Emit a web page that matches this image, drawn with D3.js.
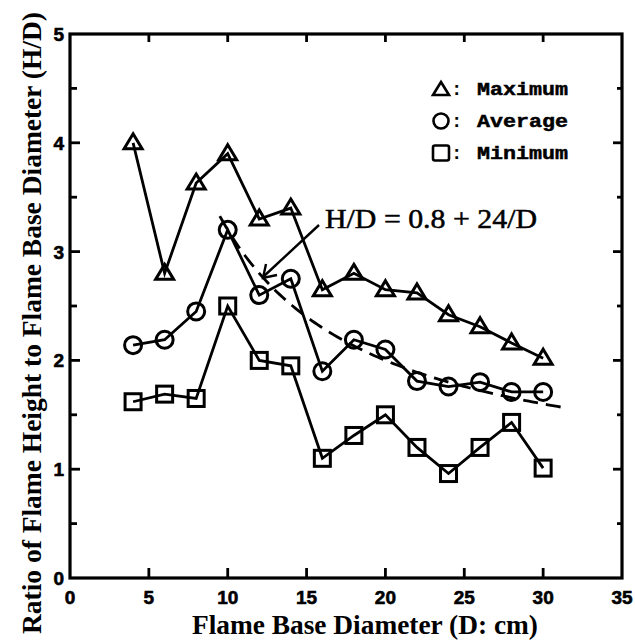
<!DOCTYPE html>
<html>
<head>
<meta charset="utf-8">
<script src="https://cdn.jsdelivr.net/npm/d3@7"></script>
<style>
  body { margin: 0; background: #fff; }
  svg { display: block; }
</style>
</head>
<body>
<svg id="chart" width="635" height="641"></svg>
<script>
// flame base diameter, cm
var diameters = [4, 6, 8, 10, 12, 14, 16, 18, 20, 22, 24, 26, 28, 30];
var maxRatio = [4.0, 2.8, 3.63, 3.9, 3.3, 3.4, 2.65, 2.8, 2.65, 2.62, 2.42, 2.31, 2.16, 2.02];
var avgRatio = [2.14, 2.19, 2.45, 3.2, 2.6, 2.75, 1.9, 2.19, 2.1, 1.81, 1.76, 1.8, 1.71, 1.71];
var minRatio = [1.62, 1.69, 1.65, 2.5, 2.0, 1.95, 1.1, 1.31, 1.5, 1.2, 0.96, 1.2, 1.43, 1.01];

var xTicks = [0, 5, 10, 15, 20, 25, 30, 35];
var yTicks = [0, 1, 2, 3, 4, 5];
var yMinorTicks = [0.5, 1.5, 2.5, 3.5, 4.5];

// fitted correlation H/D = fitA + fitB / D
var fitA = 0.8, fitB = 24;
var fitRange = [9.5, 31.6];

var legendItems = [
    { name: 'Maximum', shape: 'triangle' },
    { name: 'Average', shape: 'circle' },
    { name: 'Minimum', shape: 'square' }
];

var plotL = 70, plotT = 34, plotR = 622, plotB = 578;

var svg = d3.select('#chart');

var x = d3.scaleLinear().domain([0, 35]).range([plotL, plotR]);
var y = d3.scaleLinear().domain([0, 5]).range([plotB, plotT]);

function drawMarker(g, shape, cx, cy) {
    if (shape === 'triangle') {
        g.append('path')
            .attr('d', 'M' + cx + ',' + (cy - 9) + 'L' + (cx + 9) + ',' + (cy + 6) +
                'L' + (cx - 9) + ',' + (cy + 6) + 'Z');
    } else if (shape === 'circle') {
        g.append('circle').attr('cx', cx).attr('cy', cy).attr('r', 8.5);
    } else {
        g.append('rect').attr('x', cx - 8).attr('y', cy - 8)
            .attr('width', 16).attr('height', 16);
    }
}

// ticks (inward)
var axes = svg.append('g').attr('stroke', '#000').attr('stroke-width', 2.8);
xTicks.slice(1, -1).forEach(function(t) {
    axes.append('line').attr('x1', x(t)).attr('x2', x(t)).attr('y1', plotB).attr('y2', plotB - 10);
    axes.append('line').attr('x1', x(t)).attr('x2', x(t)).attr('y1', plotT).attr('y2', plotT + 8);
});
yTicks.slice(1, -1).forEach(function(t) {
    axes.append('line').attr('x1', plotL).attr('x2', plotL + 10).attr('y1', y(t)).attr('y2', y(t));
    axes.append('line').attr('x1', plotR).attr('x2', plotR - 9).attr('y1', y(t)).attr('y2', y(t));
});
yMinorTicks.forEach(function(t) {
    axes.append('line').attr('x1', plotL).attr('x2', plotL + 7).attr('y1', y(t)).attr('y2', y(t));
    axes.append('line').attr('x1', plotR).attr('x2', plotR - 5).attr('y1', y(t)).attr('y2', y(t));
});

svg.append('rect')
    .attr('x', plotL).attr('y', plotT)
    .attr('width', plotR - plotL).attr('height', plotB - plotT)
    .attr('fill', 'none').attr('stroke', '#000').attr('stroke-width', 3.2);

// tick labels
svg.append('g').selectAll('text')
    .data(xTicks)
  .enter().append('text')
    .attr('x', function(d) { return x(d); })
    .attr('y', plotB + 26)
    .attr('text-anchor', 'middle')
    .style('font', 'bold 19px "Liberation Sans Narrow", "Liberation Sans", Arial, sans-serif')
    .style('stroke', '#000').style('stroke-width', 0.6)
    .text(function(d) { return d; });

svg.append('g').selectAll('text')
    .data(yTicks)
  .enter().append('text')
    .attr('x', plotL - 6)
    .attr('y', function(d) { return y(d) + 7; })
    .attr('text-anchor', 'end')
    .style('font', 'bold 19px "Liberation Sans Narrow", "Liberation Sans", Arial, sans-serif')
    .style('stroke', '#000').style('stroke-width', 0.6)
    .text(function(d) { return d; });

// axis titles
svg.append('text')
    .attr('x', 365).attr('y', 634)
    .attr('text-anchor', 'middle')
    .attr('textLength', 346)
    .attr('lengthAdjust', 'spacingAndGlyphs')
    .style('font', 'bold 27px "Liberation Serif", "Times New Roman", serif')
    .text('Flame Base Diameter (D: cm)');

svg.append('text')
    .attr('transform', 'translate(41,323) rotate(-90)')
    .attr('text-anchor', 'middle')
    .attr('textLength', 622)
    .attr('lengthAdjust', 'spacingAndGlyphs')
    .style('font', 'bold 27px "Liberation Serif", "Times New Roman", serif')
    .text('Ratio of Flame Height to Flame Base Diameter (H/D)');

// fitted curve
var fitPts = d3.range(fitRange[0], fitRange[1] + 0.01, 0.2).map(function(d) {
    return [d, fitA + fitB / d];
});
var line = d3.line()
    .x(function(d) { return x(d[0]); })
    .y(function(d) { return y(d[1]); });

svg.append('path')
    .datum(fitPts)
    .attr('d', line)
    .attr('fill', 'none')
    .attr('stroke', '#000')
    .attr('stroke-width', 2.8)
    .attr('stroke-dasharray', '15,8');

// data series
var series = [
    { vals: maxRatio, shape: 'triangle' },
    { vals: avgRatio, shape: 'circle' },
    { vals: minRatio, shape: 'square' }
];

series.forEach(function(s) {
    var pts = diameters.map(function(d, i) { return [d, s.vals[i]]; });
    svg.append('path')
        .datum(pts)
        .attr('d', line)
        .attr('fill', 'none')
        .attr('stroke', '#000')
        .attr('stroke-width', 2.8);

    var g = svg.append('g')
        .attr('fill', 'none')
        .attr('stroke', '#000')
        .attr('stroke-width', 3);
    pts.forEach(function(p) {
        drawMarker(g, s.shape, x(p[0]), y(p[1]));
    });
});

// legend
var legend = svg.append('g');
legendItems.forEach(function(d, i) {
    var cy = 89 + i * 32;
    var g = legend.append('g')
        .attr('fill', 'none')
        .attr('stroke', '#000')
        .attr('stroke-width', 2.6);
    if (d.shape === 'triangle') {
        g.append('path').attr('d', 'M441,' + (cy - 7) + 'L449,' + (cy + 6) + 'L433,' + (cy + 6) + 'Z');
    } else if (d.shape === 'circle') {
        g.append('circle').attr('cx', 441).attr('cy', cy).attr('r', 7.5);
    } else {
        g.append('rect').attr('x', 433).attr('y', cy - 7.5).attr('width', 16).attr('height', 15).attr('rx', 2);
    }
    legend.append('text')
        .attr('x', 451).attr('y', cy + 6)
        .style('font', 'bold 19px "Liberation Mono", "Courier New", monospace')
        .text(':');
    legend.append('text')
        .attr('x', 477).attr('y', cy + 6)
        .attr('textLength', 91)
        .attr('lengthAdjust', 'spacingAndGlyphs')
        .style('font', 'bold 19px "Liberation Mono", "Courier New", monospace')
        .style('stroke', '#000').style('stroke-width', 0.5)
        .text(d.name);
});

// annotation with arrow
svg.append('text')
    .attr('x', 325).attr('y', 228)
    .attr('textLength', 212)
    .attr('lengthAdjust', 'spacingAndGlyphs')
    .style('font', '27px "Liberation Serif", "Times New Roman", serif')
    .style('stroke', '#000').style('stroke-width', 0.5)
    .text('H/D = 0.8 + 24/D');

var arrow = svg.append('g').attr('stroke', '#000').attr('stroke-width', 2.4).attr('fill', 'none');
arrow.append('line').attr('x1', 319).attr('y1', 225).attr('x2', 263).attr('y2', 277);
arrow.append('path').attr('d', 'M266,264L263,278L277,275');
</script>
</body>
</html>
